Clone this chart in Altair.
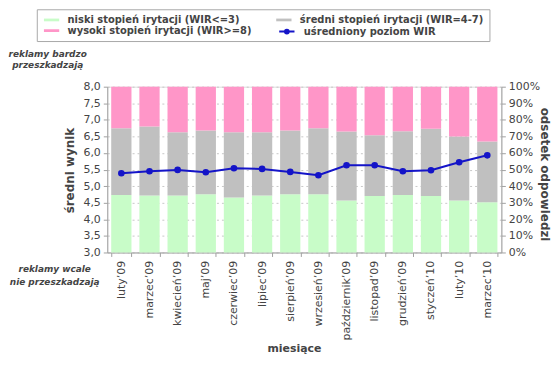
import altair as alt
import pandas as pd

# ---------------- data ----------------
miesiace = ["luty’09", "marzec’09", "kwiecień’09", "maj’09", "czerwiec’09", "lipiec’09",
            "sierpień’09", "wrzesień’09", "październik’09", "listopad’09", "grudzień’09",
            "styczeń’10", "luty’10", "marzec’10"]
niski = [34.7, 34.3, 34.3, 35.1, 33.1, 34.3, 35.1, 35.1, 31.3, 34.1, 34.7, 34.1, 31.3, 30.3]
sredni = [40.3, 41.7, 38.3, 38.5, 39.5, 38.3, 38.5, 39.9, 41.7, 36.6, 38.5, 40.6, 38.7, 36.7]
wysoki = [25.0, 24.0, 27.4, 26.4, 27.4, 27.4, 26.4, 25.0, 27.0, 29.3, 26.8, 25.3, 30.0, 33.0]
wir = [5.39, 5.45, 5.49, 5.42, 5.54, 5.52, 5.43, 5.33, 5.63, 5.63, 5.45, 5.48, 5.72, 5.93]

kategorie = ["niski stopień irytacji (WIR<=3)",
             "średni stopień irytacji (WIR=4-7)",
             "wysoki stopień irytacji (WIR>=8)"]
kolory = ["#c8fcc8", "#c0c0c0", "#ff96c8"]
linia_nazwa = "uśredniony poziom WIR"
linia_kolor = "#1414c8"
wir_ticks = [3.0, 3.5, 4.0, 4.5, 5.0, 5.5, 6.0, 6.5, 7.0, 7.5, 8.0]
pct_ticks = [0, 10, 20, 30, 40, 50, 60, 70, 80, 90, 100]

rows = []
for i, m in enumerate(miesiace):
    for k, vals in enumerate([niski, sredni, wysoki]):
        rows.append({"miesiac": m, "kategoria": kategorie[k], "procent": vals[i], "kolejnosc": k})
bars_df = pd.DataFrame(rows)
line_df = pd.DataFrame({"miesiac": miesiace, "wir": wir, "seria": [linia_nazwa] * len(miesiace)})

FONT = "DejaVu Sans"
TXT = "#444444"
AX = "#a0a0a0"

x_enc = alt.X("miesiac:N", sort=miesiace,
              scale=alt.Scale(paddingInner=0.28, paddingOuter=0.14),
              axis=alt.Axis(title="miesiące", labelAngle=-90, labelAlign="right",
                            labelBaseline="middle", labelPadding=4, tickBand="extent",
                            tickSize=4, labelFontSize=11, labelColor=TXT, labelFont=FONT,
                            titleFont=FONT, titleFontSize=11, titleFontWeight="bold",
                            titleColor=TXT, titleX=188, titleY=97, titleBaseline="middle",
                            titleAnchor="start", titleAlign="center",
                            domainColor=AX, tickColor=AX, labelLimit=200))

bars = alt.Chart(bars_df).mark_bar().encode(
    x=x_enc,
    y=alt.Y("procent:Q", stack="zero", scale=alt.Scale(domain=[0, 100], nice=False),
            axis=alt.Axis(orient="right", title="odsetek odpowiedzi", values=pct_ticks,
                          labelExpr="datum.value + '%'", grid=True, gridDash=[2, 3],
                          gridColor="#c8c8c8", tickSize=4, labelPadding=3,
                          labelFontSize=11, labelColor=TXT, labelFont=FONT,
                          titleFont=FONT, titleFontSize=12, titleFontWeight="bold",
                          titleColor=TXT, titleAngle=90, titleX=43, titleY=88,
                          titleAlign="center", titleBaseline="middle",
                          domainColor=AX, tickColor=AX)),
    color=alt.Color("kategoria:N", scale=alt.Scale(domain=kategorie, range=kolory),
                    legend=alt.Legend(title=None, orient="none", legendX=-71, legendY=-78,
                                      direction="horizontal",
                                      columns=2, columnPadding=22, rowPadding=0,
                                      padding=5, strokeColor="#a8a8a8",
                                      symbolType="M-0.6,-0.25H2.2V0.25H-0.6Z",
                                      symbolSize=121, symbolStrokeWidth=0,
                                      labelOffset=15, labelFont=FONT, labelFontSize=10,
                                      labelFontWeight="bold", labelColor=TXT,
                                      labelLimit=300)),
    order=alt.Order("kolejnosc:Q"),
)

line = alt.Chart(line_df).mark_line(
    strokeWidth=2,
    point=alt.OverlayMarkDef(filled=True, color=linia_kolor, size=22),
).encode(
    x=alt.X("miesiac:N", sort=miesiace),
    y=alt.Y("wir:Q", scale=alt.Scale(domain=[3, 8], nice=False),
            axis=alt.Axis(orient="left", title="średni wynik", values=wir_ticks,
                          labelExpr="replace(format(datum.value, '.1f'), '.', ',')",
                          grid=False, tickSize=4, labelPadding=3,
                          labelFontSize=11, labelColor=TXT, labelFont=FONT,
                          titleFont=FONT, titleFontSize=12, titleFontWeight="bold",
                          titleColor=TXT, titleX=-38, titleY=84,
                          titleAlign="center", titleBaseline="middle",
                          domainColor=AX, tickColor=AX)),
    stroke=alt.Stroke("seria:N", scale=alt.Scale(domain=[linia_nazwa], range=[linia_kolor]),
                      legend=alt.Legend(title=None, orient="none", legendX=170, legendY=-62,
                                        padding=0,
                                        symbolType="M-0.6,0H2.2M0.45,0A0.35,0.35,0,1,1,1.15,0A0.35,0.35,0,1,1,0.45,0",
                                        symbolSize=121, symbolStrokeWidth=2,
                                        symbolFillColor=linia_kolor,
                                        labelOffset=15, labelFont=FONT, labelFontSize=10,
                                        labelFontWeight="bold", labelColor=TXT,
                                        labelLimit=300)),
)

anno_top = alt.Chart(pd.DataFrame({"t": ["reklamy bardzo\nprzeszkadzają"]})).mark_text(
    font=FONT, fontSize=9, fontStyle="italic", fontWeight="bold", color=TXT,
    lineBreak="\n", align="center", baseline="middle", lineHeight=11,
).encode(text="t:N", x=alt.value(-60), y=alt.value(-33))

anno_bot = alt.Chart(pd.DataFrame({"t": ["reklamy wcale\nnie przeszkadzają"]})).mark_text(
    font=FONT, fontSize=9, fontStyle="italic", fontWeight="bold", color=TXT,
    lineBreak="\n", align="center", baseline="middle", lineHeight=13,
).encode(text="t:N", x=alt.value(-53), y=alt.value(184))

chart = alt.layer(bars, line, anno_top, anno_bot).resolve_scale(
    y="independent"
).properties(
    width=397, height=167,
    autosize=alt.AutoSizeParams(type="none"),
    padding={"left": 100, "top": 78, "right": 50, "bottom": 103},
).configure_view(stroke=None).configure(background="white")

chart.save("out.html", embed_options={"renderer": "svg", "actions": False})
